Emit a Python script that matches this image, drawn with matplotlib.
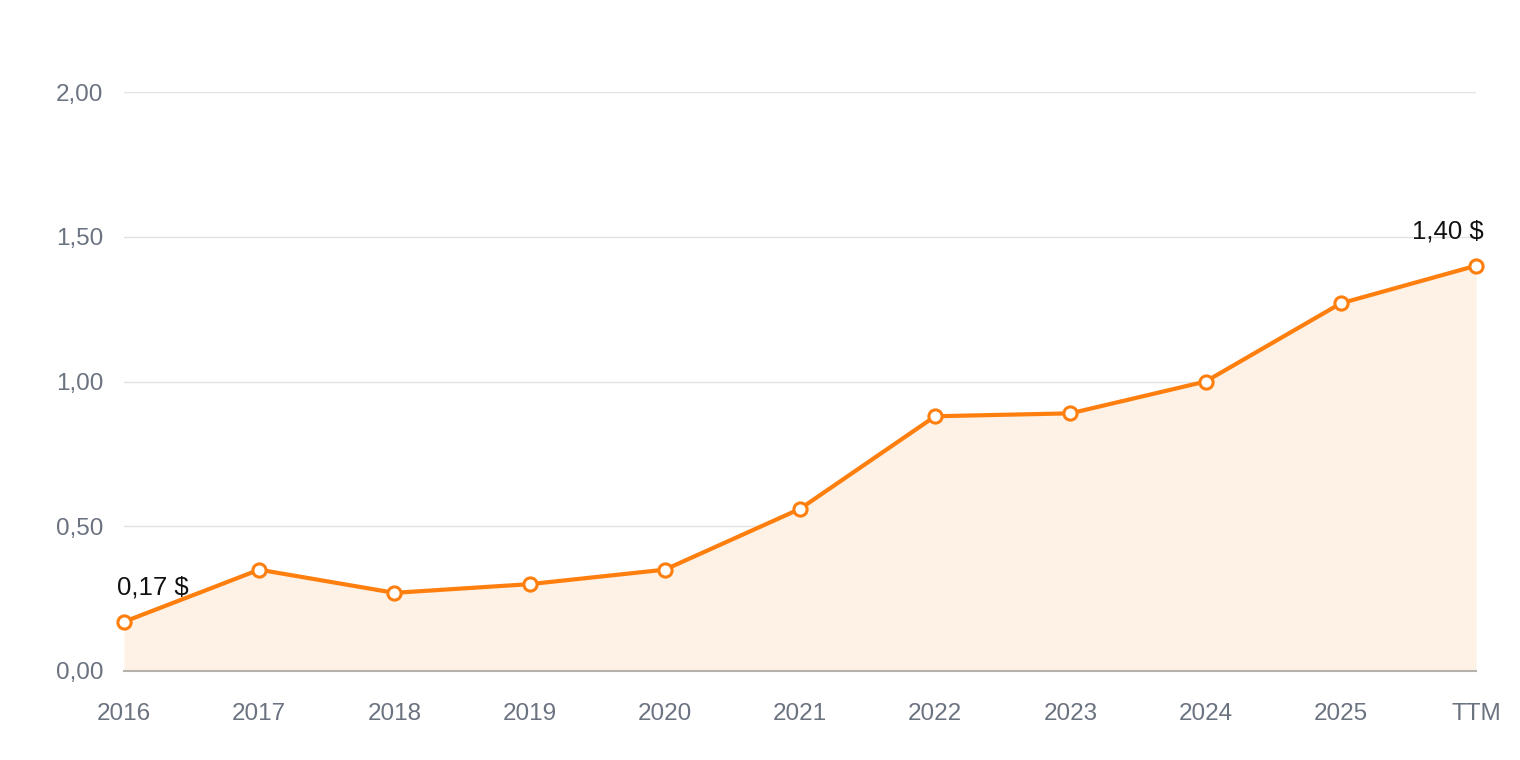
import matplotlib
matplotlib.use("Agg")
import matplotlib.pyplot as plt

categories = ["2016", "2017", "2018", "2019", "2020", "2021", "2022", "2023", "2024", "2025", "TTM"]
values = [0.17, 0.35, 0.27, 0.30, 0.35, 0.56, 0.88, 0.89, 1.00, 1.27, 1.40]
yticks = [0.0, 0.5, 1.0, 1.5, 2.0]
ytick_labels = ["0,00", "0,50", "1,00", "1,50", "2,00"]

plt.rcParams['font.family'] = ['Liberation Sans', 'DejaVu Sans']

fig = plt.figure(figsize=(15.2, 7.6), dpi=100)
ax = fig.add_axes([124/1520, 1-671/760, (1476-124)/1520, (671-92)/760])

orange = "#ff7f0e"
x = list(range(len(categories)))
ax.fill_between(x, values, 0, color="#fef1e5", zorder=1, linewidth=0)
ax.plot(x, values, color=orange, linewidth=3, zorder=3,
        marker="o", markersize=9.5, markerfacecolor="white",
        markeredgecolor=orange, markeredgewidth=2.2, clip_on=False)

ax.set_xlim(0, len(categories)-1)
ax.set_ylim(0, 2.0)
ax.set_yticks(yticks)
ax.set_yticklabels(ytick_labels)
ax.set_xticks(x)
ax.set_xticklabels(categories)
ax.tick_params(axis="both", length=0, labelsize=17.5, labelcolor="#6b7280")
ax.tick_params(axis="y", pad=15)
ax.tick_params(axis="x", pad=23)
for s in ["top", "right", "left"]:
    ax.spines[s].set_visible(False)
ax.spines["bottom"].set_color("#b5b1ad")
ax.spines["bottom"].set_linewidth(1.5)
ax.spines["bottom"].set_zorder(2)
ax.grid(axis="y", color="#e2e2e2", linewidth=1, zorder=0)
ax.set_axisbelow(True)

def fmt(v):
    return f"{v:.2f}".replace(".", ",") + " $"

ax.annotate(fmt(values[0]), (x[0], values[0]), xytext=(-7, 34), textcoords="offset pixels",
            ha="left", va="center", fontsize=18.5, color="#111111", zorder=5)
ax.annotate(fmt(values[-1]), (x[-1], values[-1]), xytext=(8, 34), textcoords="offset pixels",
            ha="right", va="center", fontsize=18.5, color="#111111", zorder=5, annotation_clip=False)

fig.savefig("out.png", dpi=100, facecolor="white")
